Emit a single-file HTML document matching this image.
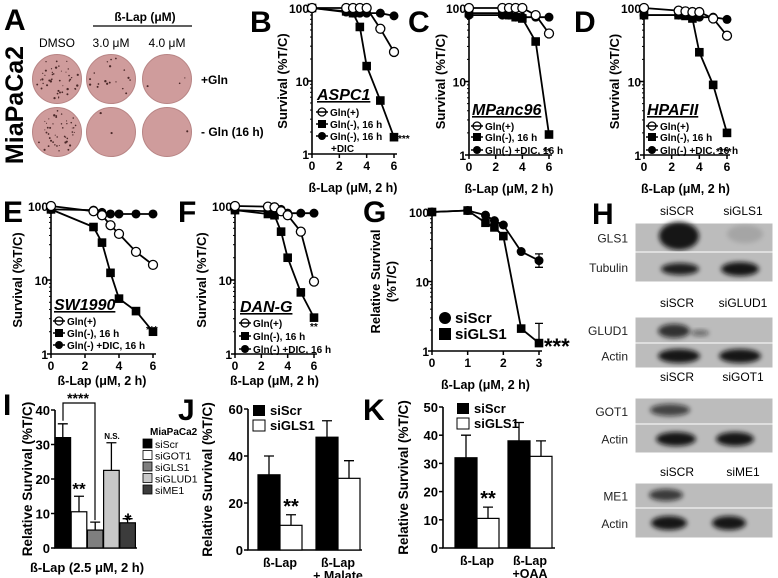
<!DOCTYPE html>
<html><head><meta charset="utf-8"><style>
html,body{margin:0;padding:0;background:#fff;}
svg{display:block;font-family:"Liberation Sans",Arial,sans-serif;}
</style></head><body>
<svg id="fig" width="778" height="578" viewBox="0 0 778 578" xmlns="http://www.w3.org/2000/svg">
<defs><filter id="bl" x="-30%" y="-50%" width="160%" height="200%"><feGaussianBlur stdDeviation="2.5"/></filter></defs>
</svg>
<script>
const NS='http://www.w3.org/2000/svg';
const svg=document.getElementById('fig');
function mk(tag,at,parent,txt){const e=document.createElementNS(NS,tag);for(const k in at)e.setAttribute(k,at[k]);if(txt!==undefined)e.textContent=txt;(parent||svg).appendChild(e);return e;}
function T(x,y,s,size,opts){opts=opts||{};const e=mk('text',{x:x,y:y,'font-size':size,'font-weight':opts.w||'bold','text-anchor':opts.a||'start',fill:opts.f||'#000'},opts.p,s);if(opts.fs)e.setAttribute('font-style',opts.fs);if(opts.rot)e.setAttribute('transform','rotate(-90 '+x+' '+y+')');if(opts.u)e.setAttribute('text-decoration','underline');return e;}

// ---------- data (line panels) ----------
const doseBF=[0,2.5,3,3.5,4,5,6];
const B_glnPlus=[100,100,100,100,100,52,25];
const B_glnMinus=[100,90,85,55,16,5.4,1.7];
const B_dic=[100,88,85,85,85,85,78];
const C_glnPlus=[100,100,100,100,100,80,45];
const C_glnMinus=[85,85,80,75,72,35,1.9];
const C_dic=[80,80,80,75,75,75,75];
const D_glnPlus=[100,92,90,88,88,72,42];
const D_glnMinus=[80,80,78,72,25,9,2];
const D_dic=[80,80,80,78,75,75,70];
const E_glnPlus=[100,85,75,55,42,24,16];
const E_glnMinus=[90,52,32,12.5,5.6,3.8,2];
const E_dic=[90,88,82,78,78,78,78];
const F_glnPlus=[100,98,96,85,75,45,9.5];
const F_glnMinus=[88,78,75,45,20,6.8,3.1];
const F_dic=[88,85,95,90,80,80,80];
const doseG=[0,1,1.5,1.75,2,2.5,3];
const G_siScr=[100,105,90,75,65,27,20];
const G_siGLS1=[100,105,70,60,45,2.1,1.3];
const G_errScr=25;
const G_errGLS1=2.5;
const xTicksB=[0,2,4,6];
const xTicksG=[0,1,2,3];
const yTicksLog=[1,10,100];

// ---------- data (bar panels) ----------
const I_groups=['siScr','siGOT1','siGLS1','siGLUD1','siME1'];
const I_values=[32,10.5,5.2,22.5,7.3];
const I_errors=[36,15,7.5,30.5,8.5];
const I_ticks=[0,10,20,30,40];
const J_categories=['ß-Lap','ß-Lap|+ Malate'];
const J_siScr=[32,48];
const J_siGLS1=[10.5,30.5];
const J_errScr=[40,55];
const J_errGLS1=[15,38];
const J_ticks=[0,20,40,60];
const K_categories=['ß-Lap','ß-Lap|+OAA'];
const K_siScr=[32,38];
const K_siGLS1=[10.5,32.5];
const K_errScr=[40,44.5];
const K_errGLS1=[14.5,38];
const K_ticks=[0,10,20,30,40,50];

function marker(g,type,x,y,r){
  let e;
  if(type==='sq'){e=mk('rect',{x:x-r,y:y-r,width:2*r,height:2*r,fill:'#000'},g);}
  else if(type==='open'){e=mk('circle',{cx:x,cy:y,r:r,fill:'#fff',stroke:'#000','stroke-width':1.3},g);}
  else{e=mk('circle',{cx:x,cy:y,r:r,fill:'#000'},g);}
  return e;
}

function logPanel(o){
  const g=mk('g',{});
  
  
  const xs=v=>o.x0+(o.x1-o.x0)*v/o.xmax;
  const ys=v=>o.y1-(o.y1-o.y100)*Math.log10(v)/2;
  const ax=mk('path',{d:'M'+o.x0+' '+(o.y100-4)+'V'+o.y1+'H'+(o.x1+3),stroke:'#000','stroke-width':1.6,fill:'none'},g);
  
  
  yTicksLog.forEach(t=>{const y=ys(t);mk('line',{x1:o.x0-4,x2:o.x0,y1:y,y2:y,stroke:'#000','stroke-width':1.5},g);
    const tl=T(o.x0-3,y+5,String(t),12,{a:'end',p:g});
    if(t<100){for(let k=2;k<10;k++){const yy=ys(t*k);mk('line',{x1:o.x0-2,x2:o.x0,y1:yy,y2:yy,stroke:'#000','stroke-width':1},g);}}});
  o.xt.forEach(t=>{const x=xs(t);mk('line',{x1:x,x2:x,y1:o.y1,y2:o.y1+4,stroke:'#000','stroke-width':1.5},g);
    const tl=T(x,o.y1+16,String(t),12,{a:'middle',p:g});});
  const xt=T((o.x0+o.x1)/2,o.y1+(o.xtOff||38),'ß-Lap (μM, 2 h)',12.5,{a:'middle',p:g});
  
  if(o.ytitle2){
    const a=T(o.ytx-8,(o.y100+o.y1)/2,'Relative Survival',13,{a:'middle',rot:1,p:g});
    const b=T(o.ytx+8,(o.y100+o.y1)/2,'(%T/C)',13,{a:'middle',rot:1,p:g});
  } else {
    const a=T(o.ytx,(o.y100+o.y1)/2,'Survival (%T/C)',13,{a:'middle',rot:1,p:g});
  }
  o.series.forEach(s=>{
    const pts=o.xv.map((v,i)=>xs(v)+','+ys(s.v[i])).join(' ');
    const pl=mk('polyline',{points:pts,fill:'none',stroke:'#000','stroke-width':1.8},g);
    
  });
  o.series.slice().reverse().forEach(s=>{
    o.xv.forEach((v,i)=>{const m=marker(g,s.t,xs(v),ys(s.v[i]),s.t==='sq'?4.3:4.5);
      });
  });
  return {g,xs,ys};
}

// ---------- Panel A ----------
(function(){
  const g=mk('g',{});
  T(4,30,'A',30,{p:g});
  T(23,105,'MiaPaCa2',25,{a:'middle',rot:1,p:g});
  T(145,21,'ß-Lap (μM)',12,{a:'middle',p:g});
  mk('line',{x1:93,x2:192,y1:26,y2:26,stroke:'#000','stroke-width':1.3},g);
  T(57,47,'DMSO',12,{a:'middle',w:'normal',p:g});
  T(111,47,'3.0 μM',12,{a:'middle',w:'normal',p:g});
  T(167,47,'4.0 μM',12,{a:'middle',w:'normal',p:g});
  T(201,84,'+Gln',12,{p:g});
  T(201,136,'- Gln (16 h)',12,{p:g});
  const cx=[57,111,167],cy=[79,132],dens=[[45,18,3],[45,2,1]];
  let seed=7;const rnd=()=>{seed=(seed*9301+49297)%233280;return seed/233280;};
  cy.forEach((yy,r)=>cx.forEach((xx,c)=>{
    const d=mk('circle',{cx:xx,cy:yy,r:24.5,fill:'#cf9c9c',stroke:'#b88585','stroke-width':1},g);
    
    for(let k=0;k<dens[r][c];k++){const a=rnd()*6.283,rr=Math.sqrt(rnd())*22;
      mk('circle',{cx:xx+rr*Math.cos(a),cy:yy+rr*Math.sin(a),r:0.5+rnd()*0.7,fill:'#4a2828'},g);}
  }));
})();

// ---------- Panels B-F ----------
function legendLine(g,x,y,type,label){marker(g,type,x,y-4,4);mk('line',{x1:x-6,x2:x+6,y1:y-4,y2:y-4,stroke:'#000','stroke-width':1.5},g);
  const t=T(x+8,y,label,10,{p:g});}
function linePanel(letter,lx,ly,o,leg){
  const p=logPanel(o);
  T(lx,ly,letter,30,{p:p.g});
  const nm=T(leg.x,leg.y,leg.name,16,{fs:'italic',u:1,p:p.g});
  legendLine(p.g,leg.x+5,leg.e[0],'open','Gln(+)');
  legendLine(p.g,leg.x+5,leg.e[1],'sq','Gln(-), 16 h');
  legendLine(p.g,leg.x+5,leg.e[2],'fill',leg.dic);
  if(leg.extra)T(leg.x+14,leg.e[2]+12,leg.extra,10,{p:p.g});
  const st=T(leg.sx,leg.sy,leg.star,10,{p:p.g});
}
linePanel('B',250,32,{name:'panel-b-aspc1',x0:312,x1:394,xmax:6,y100:8,y1:154,ytx:287,xt:xTicksB,xv:doseBF,
  series:[{n:'gln-plus',t:'open',v:B_glnPlus},{n:'gln-minus',t:'sq',v:B_glnMinus},{n:'gln-minus-dic',t:'fill',v:B_dic}]},
  {x:317,y:100,name:'ASPC1',e:[116,128,140],dic:'Gln(-), 16 h',extra:'+DIC',sx:398,sy:142,star:'***'});
linePanel('C',408,32,{name:'panel-c-mpanc96',x0:469,x1:549,xmax:6,y100:8,y1:155,ytx:445,xt:xTicksB,xv:doseBF,
  series:[{n:'gln-plus',t:'open',v:C_glnPlus},{n:'gln-minus',t:'sq',v:C_glnMinus},{n:'gln-minus-dic',t:'fill',v:C_dic}]},
  {x:472,y:115,name:'MPanc96',e:[130,141,154],dic:'Gln(-) +DIC, 16 h',sx:543,sy:155,star:'**'});
linePanel('D',574,32,{name:'panel-d-hpafii',x0:644,x1:727,xmax:6,y100:8,y1:155,ytx:619,xt:xTicksB,xv:doseBF,
  series:[{n:'gln-plus',t:'open',v:D_glnPlus},{n:'gln-minus',t:'sq',v:D_glnMinus},{n:'gln-minus-dic',t:'fill',v:D_dic}]},
  {x:647,y:115,name:'HPAFII',e:[130,141,154],dic:'Gln(-) +DIC, 16 h',sx:716,sy:155,star:'****'});
linePanel('E',3,222,{name:'panel-e-sw1990',x0:51,x1:153,xmax:6,y100:206,y1:354,ytx:22,xtOff:31,xt:xTicksB,xv:doseBF,
  series:[{n:'gln-plus',t:'open',v:E_glnPlus},{n:'gln-minus',t:'sq',v:E_glnMinus},{n:'gln-minus-dic',t:'fill',v:E_dic}]},
  {x:54,y:310,name:'SW1990',e:[325,337,349],dic:'Gln(-) +DIC, 16 h',sx:146,sy:333,star:'***'});
linePanel('F',178,222,{name:'panel-f-dan-g',x0:235,x1:314,xmax:6,y100:206,y1:354,ytx:206,xtOff:31,xt:xTicksB,xv:doseBF,
  series:[{n:'gln-plus',t:'open',v:F_glnPlus},{n:'gln-minus',t:'sq',v:F_glnMinus},{n:'gln-minus-dic',t:'fill',v:F_dic}]},
  {x:240,y:312,name:'DAN-G',e:[327,340,353],dic:'Gln(-) +DIC, 16 h',sx:310,sy:330,star:'**'});

// ---------- Panel G ----------
(function(){
  const p=logPanel({name:'panel-g-sigls1',x0:432,x1:539,xmax:3,y100:212,y1:351,ytx:388,ytitle2:1,xt:xTicksG,xv:doseG,
    series:[{n:'siscr',t:'fill',v:G_siScr},{n:'sigls1',t:'sq',v:G_siGLS1}]});
  T(363,222,'G',30,{p:p.g});
  const x=p.xs(3),i=doseG.length-1;
  mk('path',{d:'M'+x+' '+p.ys(G_siScr[i]+5)+'V'+p.ys(G_siScr[i]-4)+'M'+(x-4)+' '+p.ys(G_siScr[i]+5)+'h8M'+(x-4)+' '+p.ys(G_siScr[i]-4)+'h8',stroke:'#000','stroke-width':1.3,fill:'none'},p.g);
  mk('path',{d:'M'+x+' '+p.ys(G_errGLS1)+'V'+p.ys(G_siGLS1[i])+'M'+(x-4)+' '+p.ys(G_errGLS1)+'h8',stroke:'#000','stroke-width':1.3,fill:'none'},p.g);
  marker(p.g,'fill',445,318,6);T(455,323,'siScr',15,{p:p.g});
  mk('rect',{x:439,y:328,width:12,height:12,fill:'#000'},p.g);T(455,339,'siGLS1',15,{p:p.g});
  T(544,354,'***',22,{p:p.g});
})();

// ---------- Panel H blots ----------
(function(){
  const g=mk('g',{});
  T(592,224,'H',30,{p:g});
  const groups=[
    {l:['siSCR','siGLS1'],ly:215,rows:[{n:'GLS1',y:223,h:29,b:[[679,236,20,14,0.95],[745,234,18,9,0.12]]},{n:'Tubulin',y:252,h:30,b:[[680,269,19,6,0.9],[740,269,19,7,0.95]]}]},
    {l:['siSCR','siGLUD1'],ly:307,rows:[{n:'GLUD1',y:317,h:26,b:[[674,331,16,7,0.8],[700,333,9,3,0.5]]},{n:'Actin',y:343,h:25,b:[[679,356,21,7,0.95],[740,356,21,7,0.95]]}]},
    {l:['siSCR','siGOT1'],ly:381,rows:[{n:'GOT1',y:398,h:26,b:[[670,410,20,6,0.7]]},{n:'Actin',y:424,h:29,b:[[676,439,20,7,0.95],[735,439,19,7,0.95]]}]},
    {l:['siSCR','siME1'],ly:476,rows:[{n:'ME1',y:483,h:25,b:[[666,495,17,6,0.75]]},{n:'Actin',y:508,h:30,b:[[669,523,18,7,0.95],[729,523,17,7,0.95]]}]}
  ];
  groups.forEach(gr=>{
    T(677,gr.ly,gr.l[0],12,{a:'middle',w:'normal',p:g});T(743,gr.ly,gr.l[1],12,{a:'middle',w:'normal',p:g});
    gr.rows.forEach(r=>{
      const bx=mk('rect',{x:635,y:r.y,width:138,height:r.h,fill:'#bcbcbc',stroke:'#fff','stroke-width':1},g);
      
      T(628,r.y+r.h/2+5,r.n,12,{a:'end',w:'normal',p:g,f:'#222'});
      r.b.forEach(b=>mk('ellipse',{cx:b[0],cy:b[1],rx:b[2],ry:b[3],fill:'#111','fill-opacity':b[4],filter:'url(#bl)'},g));
    });
  });
})();

// ---------- bar panels ----------
function barAxis(g,x0,x1,y0,yTop,vmax,ticks,title,tx){
  const ys=v=>y0-(y0-yTop)*v/vmax;
  mk('path',{d:'M'+x0+' '+(yTop)+'V'+y0+'H'+x1,stroke:'#000','stroke-width':1.6,fill:'none'},g);
  ticks.forEach(t=>{mk('line',{x1:x0-4,x2:x0,y1:ys(t),y2:ys(t),stroke:'#000','stroke-width':1.5},g);
    const tl=T(x0-5,ys(t)+5,String(t),13,{a:'end',p:g});});
  const yt=T(tx,(y0+yTop)/2,title,13.5,{a:'middle',rot:1,p:g});
  return ys;
}
function bar(g,ys,x,w,v,err,fill,name){
  const b=mk('rect',{x:x,y:ys(v),width:w,height:ys(0)-ys(v),fill:fill,stroke:'#000','stroke-width':1.2},g);
  
  const cx=x+w/2;
  mk('path',{d:'M'+cx+' '+ys(v)+'V'+ys(err)+'M'+(cx-5)+' '+ys(err)+'h10',stroke:'#000','stroke-width':1.3,fill:'none'},g);
}
// Panel I
(function(){
  const g=mk('g',{});
  T(3,415,'I',30,{p:g});
  const ys=barAxis(g,55,137,548,410,40,I_ticks,'Relative Survival (%T/C)',32);
  const fills=['#000','#fff','#7f7f7f','#c8c8c8','#3c3c3c'];
  I_values.forEach((v,i)=>bar(g,ys,55+i*16.2,15.6,v,I_errors[i],fills[i],'bar-'+I_groups[i].toLowerCase()));
  mk('path',{d:'M63 '+(ys(36)-3)+'V403H95V'+(ys(7.5)-2),stroke:'#000','stroke-width':1.2,fill:'none'},g);
  T(78,403,'****',14,{a:'middle',p:g});
  T(79,ys(15)-2,'**',17,{a:'middle',p:g});
  T(112,ys(30.5)-4,'N.S.',8,{a:'middle',p:g});
  T(128,ys(8.5)+8,'*',18,{a:'middle',p:g});
  T(150,435,'MiaPaCa2',10,{p:g});
  I_groups.forEach((n,i)=>{const y=439+i*11.5;mk('rect',{x:143,y:y,width:9,height:9,fill:fills[i],stroke:'#000','stroke-width':0.8},g);
    const t=T(155,y+9,n,10.5,{w:'normal',p:g});});
  const xt=T(87,572,'ß-Lap (2.5 μM, 2 h)',13,{a:'middle',p:g});
})();
function groupedPanel(name,letter,lx,ly,x0,x1,y0,yTop,vmax,ticks,tx,cats,s1,s2,e1,e2,bx,bw,legx,legy){
  const g=mk('g',{});
  T(lx,ly,letter,30,{p:g});
  const ys=barAxis(g,x0,x1,y0,yTop,vmax,ticks,'Relative Survival (%T/C)',tx);
  cats.forEach((c,i)=>{
    bar(g,ys,bx[i],bw,s1[i],e1[i],'#000','bar-siscr-'+i);
    bar(g,ys,bx[i]+bw,bw,s2[i],e2[i],'#fff','bar-sigls1-'+i);
    c.split('|').forEach((ln,k)=>{const t=T(bx[i]+bw,y0+17+k*13,ln,12.5,{a:'middle',p:g});});
  });
  T(bx[0]+bw*1.5,ys(e2[0])-2,'**',20,{a:'middle',p:g});
  mk('rect',{x:legx,y:legy,width:12,height:11,fill:'#000'},g);T(legx+17,legy+10,'siScr',13,{p:g});
  mk('rect',{x:legx,y:legy+15,width:12,height:11,fill:'#fff',stroke:'#000','stroke-width':1},g);T(legx+17,legy+25,'siGLS1',13,{p:g});
}
groupedPanel('panel-j-malate','J',178,420,248,362,550,409,60,J_ticks,212,J_categories,J_siScr,J_siGLS1,J_errScr,J_errGLS1,[258,316],22,253,405);
groupedPanel('panel-k-oaa','K',363,420,443,555,548,407,50,K_ticks,408,K_categories,K_siScr,K_siGLS1,K_errScr,K_errGLS1,[455,508],22,457,403);
</script>
</body></html>
